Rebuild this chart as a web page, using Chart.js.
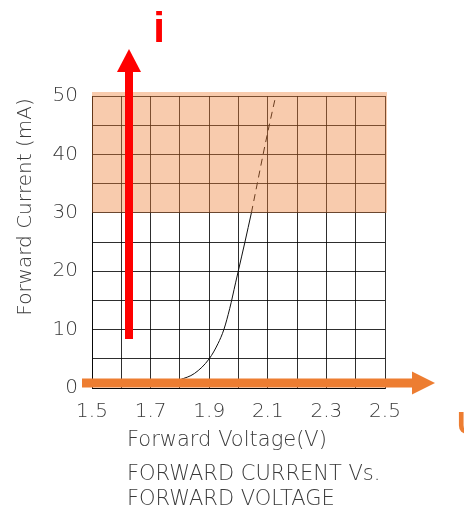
<!DOCTYPE html>
<html>
<head>
<meta charset="utf-8">
<script src="https://cdn.jsdelivr.net/npm/chart.js@4.4.0/dist/chart.umd.min.js"></script>
<style>
  html, body { margin: 0; padding: 0; background: #ffffff; }
  #wrap { width: 464px; height: 506px; position: relative; }
</style>
</head>
<body>
<div id="wrap"><canvas id="chartDiodo" width="464" height="506"></canvas></div>
<script>
// Curva I-V (tramo solido hasta 30 mA, tramo discontinuo hasta 50 mA)
const voltajeSolido = [1.76, 1.80, 1.85, 1.90, 1.93, 1.95, 1.97, 1.99, 2.00, 2.022, 2.044];
const corrienteSolida = [0.6, 1.4, 2.5, 5, 7.6, 10, 13.6, 18, 20.2, 25, 30];
const voltajeDiscontinuo = [2.044, 2.064, 2.084, 2.105, 2.127];
const corrienteDiscontinua = [30, 35, 40, 45, 50];

// Etiquetas de los ejes
const ticksVoltaje = [1.5, 1.7, 1.9, 2.1, 2.3, 2.5];
const ticksCorriente = [0, 10, 20, 30, 40, 50];

// Zona sombreada (mA)
const zonaSombreada = [30, 50];

const textoEjeY = 'Forward Current (mA)';
const lineasTitulo = ['Forward Voltage(V)', 'FORWARD CURRENT Vs.', 'FORWARD VOLTAGE'];

const FUENTE = '"DejaVu Sans", "Noto Sans", sans-serif';
const COLOR_TEXTO = '#3a3a3a';
const NARANJA = '#ED7D31';
const ROJO = '#FF0000';

const aPuntos = (xs, ys) => xs.map((x, i) => ({ x: x, y: ys[i] }));

// --- Plugin: sombreado, flechas y textos ---
const pluginDecoracion = {
    id: 'decoracion',
    afterDatasetsDraw(chart) {
        const { ctx, scales: { x, y } } = chart;
        const x0 = x.getPixelForValue(1.5);
        const x1 = x.getPixelForValue(2.5) + 2;
        const yTop = y.getPixelForValue(zonaSombreada[1]) - 4;
        const yBot = y.getPixelForValue(zonaSombreada[0]);
        ctx.save();
        ctx.fillStyle = 'rgba(237,125,49,0.4)';
        ctx.fillRect(x0, yTop, x1 - x0, yBot - yTop);
        ctx.restore();
    },
    afterDraw(chart) {
        const { ctx, scales: { x, y } } = chart;
        ctx.save();

        // Flecha horizontal naranja (eje U)
        const yFlecha = y.getPixelForValue(0) - 5;
        const xIni = x.getPixelForValue(1.5) - 10;
        const xPunta = x.getPixelForValue(2.5) + 50;
        ctx.fillStyle = NARANJA;
        ctx.fillRect(xIni, yFlecha - 4.5, xPunta - 22 - xIni, 9);
        ctx.beginPath();
        ctx.moveTo(xPunta, yFlecha);
        ctx.lineTo(xPunta - 23, yFlecha - 11.5);
        ctx.lineTo(xPunta - 23, yFlecha + 11.5);
        ctx.closePath();
        ctx.fill();

        // Flecha vertical roja (eje i)
        const xRoja = x.getPixelForValue(1.5) + 37;
        const yBase = y.getPixelForValue(0) - 49;
        const yTope = y.getPixelForValue(50) - 47;
        ctx.fillStyle = ROJO;
        ctx.fillRect(xRoja - 4, yTope + 22, 8, yBase - yTope - 22);
        ctx.beginPath();
        ctx.moveTo(xRoja, yTope);
        ctx.lineTo(xRoja - 12, yTope + 23);
        ctx.lineTo(xRoja + 12, yTope + 23);
        ctx.closePath();
        ctx.fill();

        // Letras de los ejes
        ctx.fillStyle = ROJO;
        ctx.font = 'bold 42px "Liberation Sans", Arial, sans-serif';
        ctx.textAlign = 'center';
        ctx.textBaseline = 'alphabetic';
        ctx.fillText('i', xRoja + 30, 42);

        ctx.fillStyle = NARANJA;
        ctx.font = 'bold 32px "Liberation Sans", Arial, sans-serif';
        ctx.textAlign = 'left';
        ctx.fillText('U', 457, 434);

        // Titulo del eje Y
        ctx.fillStyle = COLOR_TEXTO;
        ctx.font = '200 20px ' + FUENTE;
        ctx.translate(26, (y.top + y.getPixelForValue(12)) / 2);
        ctx.rotate(-Math.PI / 2);
        ctx.textAlign = 'center';
        ctx.textBaseline = 'middle';
        ctx.fillText(textoEjeY, 0, 0);
        ctx.setTransform(1, 0, 0, 1, 0, 0);

        // Titulo inferior
        ctx.font = '200 21px ' + FUENTE;
        ctx.textAlign = 'left';
        ctx.textBaseline = 'alphabetic';
        const baselines = [446, 480, 505];
        lineasTitulo.forEach((linea, i) => ctx.fillText(linea, 127, baselines[i]));

        ctx.restore();
    }
};

new Chart(document.getElementById('chartDiodo'), {
    type: 'line',
    data: {
        datasets: [
            {
                data: aPuntos(voltajeSolido, corrienteSolida),
                borderColor: '#111111',
                borderWidth: 1,
                pointRadius: 0,
                fill: false,
                cubicInterpolationMode: 'monotone'
            },
            {
                data: aPuntos(voltajeDiscontinuo, corrienteDiscontinua),
                borderColor: '#111111',
                borderWidth: 1,
                borderDash: [7, 5],
                pointRadius: 0,
                fill: false,
                cubicInterpolationMode: 'monotone'
            }
        ]
    },
    options: {
        responsive: false,
        animation: false,
        events: [],
        layout: { padding: { top: 96, right: 79, left: 0, bottom: 0 } },
        plugins: {
            legend: { display: false },
            tooltip: { enabled: false }
        },
        scales: {
            x: {
                type: 'linear',
                min: 1.5,
                max: 2.5,
                afterFit: (scale) => { scale.height = 118; },
                afterBuildTicks: (scale) => {
                    const t = [];
                    for (let i = 0; i <= 10; i++) t.push({ value: Math.round((1.5 + i * 0.1) * 10) / 10 });
                    scale.ticks = t;
                },
                grid: { color: 'rgba(0,0,0,0.82)', lineWidth: 1, drawTicks: false },
                border: { color: 'rgba(0,0,0,0.82)' },
                ticks: {
                    padding: 12,
                    color: COLOR_TEXTO,
                    font: { family: FUENTE, size: 20, weight: 200 },
                    maxRotation: 0,
                    autoSkip: false,
                    callback: (v) => ticksVoltaje.some(t => Math.abs(t - v) < 1e-6) ? v.toFixed(1) : ''
                }
            },
            y: {
                min: 0,
                max: 50,
                afterFit: (scale) => { scale.width = 92; },
                grid: { color: 'rgba(0,0,0,0.82)', lineWidth: 1, drawTicks: false },
                border: { color: 'rgba(0,0,0,0.82)' },
                ticks: {
                    stepSize: 5,
                    padding: 14,
                    color: COLOR_TEXTO,
                    font: { family: FUENTE, size: 20, weight: 200 },
                    autoSkip: false,
                    callback: (v) => ticksCorriente.includes(v) ? String(v) : ''
                }
            }
        }
    },
    plugins: [pluginDecoracion]
});
</script>
</body>
</html>
